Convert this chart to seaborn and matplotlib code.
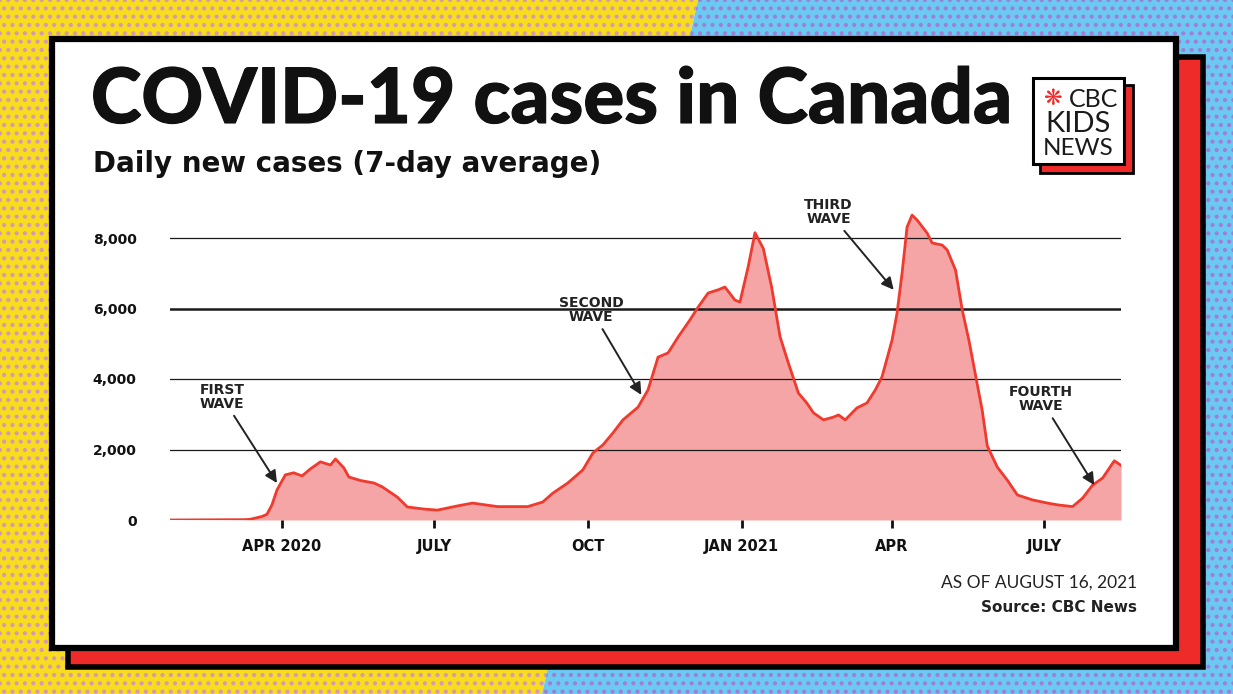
import matplotlib
matplotlib.use("Agg")
import matplotlib.pyplot as plt
import matplotlib.patheffects as pe
from matplotlib.patches import Polygon, Rectangle
import pandas as pd
import seaborn as sns

# 7-day average of daily new cases
dates = [
    "2020-01-25", "2020-03-10", "2020-03-13", "2020-03-20", "2020-03-23", "2020-03-26",
    "2020-03-29", "2020-04-03", "2020-04-08", "2020-04-13", "2020-04-18", "2020-04-24",
    "2020-04-30", "2020-05-03", "2020-05-08", "2020-05-11", "2020-05-18", "2020-05-26",
    "2020-05-31", "2020-06-09", "2020-06-15", "2020-06-25", "2020-07-03", "2020-07-15",
    "2020-07-24", "2020-08-02", "2020-08-08", "2020-08-26", "2020-09-04", "2020-09-10",
    "2020-09-19", "2020-09-28", "2020-10-04", "2020-10-10", "2020-10-16", "2020-10-22",
    "2020-10-31", "2020-11-06", "2020-11-12", "2020-11-18", "2020-11-24", "2020-12-01",
    "2020-12-06", "2020-12-12", "2020-12-18", "2020-12-22", "2020-12-28", "2020-12-31",
    "2021-01-05", "2021-01-09", "2021-01-14", "2021-01-19", "2021-01-24", "2021-01-29",
    "2021-02-04", "2021-02-09", "2021-02-13", "2021-02-19", "2021-02-25", "2021-02-28",
    "2021-03-04", "2021-03-11", "2021-03-17", "2021-03-22", "2021-03-26", "2021-04-01",
    "2021-04-04", "2021-04-07", "2021-04-10", "2021-04-13", "2021-04-16", "2021-04-22",
    "2021-04-25", "2021-05-01", "2021-05-04", "2021-05-09", "2021-05-11", "2021-05-13",
    "2021-05-17", "2021-05-21", "2021-05-25", "2021-05-28", "2021-06-03", "2021-06-09",
    "2021-06-15", "2021-06-24", "2021-07-03", "2021-07-09", "2021-07-18", "2021-07-24",
    "2021-07-30", "2021-08-05", "2021-08-12", "2021-08-16",
]
cases = [
    0, 10, 20, 100, 160, 430,
    850, 1280, 1340, 1250, 1450, 1650,
    1560, 1730, 1480, 1220, 1120, 1050,
    940, 650, 370, 310, 280, 400,
    480, 420, 380, 380, 510, 760,
    1050, 1420, 1900, 2130, 2470, 2840,
    3200, 3690, 4620, 4740, 5190, 5670,
    6040, 6440, 6530, 6610, 6240, 6180,
    7200, 8150, 7700, 6600, 5200, 4450,
    3600, 3320, 3040, 2840, 2920, 2980,
    2840, 3180, 3320, 3690, 4060, 5100,
    5870, 7000, 8310, 8650, 8510, 8140,
    7860, 7800, 7660, 7090, 6530, 5960,
    5100, 4100, 3100, 2100, 1500, 1130,
    710, 570, 480, 430, 380, 620,
    990, 1190, 1680, 1550,
]

tick_dates = ["2020-04-01", "2020-07-01", "2020-10-01", "2021-01-01", "2021-04-01", "2021-07-01"]
tick_labels = ["APR 2020", "JULY", "OCT", "JAN 2021", "APR", "JULY"]
y_ticks = [0, 2000, 4000, 6000, 8000]

# wave labels: text, text position (date, value), arrow tip (date, value)
wave_labels = ["FIRST\nWAVE", "SECOND\nWAVE", "THIRD\nWAVE", "FOURTH\nWAVE"]
wave_text_dates = ["2020-02-25", "2020-10-03", "2021-02-22", "2021-06-29"]
wave_text_values = [3500, 5960, 8740, 3430]
wave_tip_dates = ["2020-03-29", "2020-11-02", "2021-04-02", "2021-07-31"]
wave_tip_values = [1050, 3550, 6530, 990]

df = pd.DataFrame({"date": pd.to_datetime(dates), "cases": cases})

W, H = 1233, 694
BOLD = "DejaVu Sans"
fig = plt.figure(figsize=(W / 100, H / 100), dpi=100)

# ---- background and cards, in pixel coordinates ----
bg = fig.add_axes([0, 0, 1, 1])
bg.set_xlim(0, W)
bg.set_ylim(H, 0)
bg.axis("off")

plt.rcParams["hatch.linewidth"] = 1.8
bg.add_patch(Polygon([(0, 0), (698, 0), (542, H), (0, H)], closed=True,
                     facecolor="#f8dc1e", edgecolor="#d49ab0", hatch="..", lw=0))
bg.add_patch(Polygon([(698, 0), (W, 0), (W, H), (542, H)], closed=True,
                     facecolor="#6ccaf2", edgecolor="#9d7fd8", hatch="..", lw=0))

bg.add_patch(Rectangle((68, 57), 1135, 610, facecolor="#ef2b2a", edgecolor="black", lw=4))
bg.add_patch(Rectangle((52, 39), 1124, 609, facecolor="white", edgecolor="black", lw=4.5))

# logo
bg.add_patch(Rectangle((1040, 85), 93, 88, facecolor="#ef2b2a", edgecolor="black", lw=2))
bg.add_patch(Rectangle((1033, 78), 91, 86, facecolor="white", edgecolor="black", lw=2.2))
bg.text(1052, 99, "❋", color="#ef2b2a", fontsize=16, ha="center", va="center",
        family="DejaVu Sans", fontweight="bold")
bg.text(1118, 99, "CBC", fontsize=18, ha="right", va="center", family="Lato", color="#1a1a1a")
bg.text(1078, 124, "KIDS", fontsize=21, ha="center", va="center", family="Lato", color="#1a1a1a")
bg.text(1078, 148, "NEWS", fontsize=17.5, ha="center", va="center", family="Lato", color="#1a1a1a")

# titles
bg.text(91, 123, "COVID-19 cases in Canada", fontsize=55, fontweight="black", family="Lato",
        color="#111111", va="baseline", ha="left",
        path_effects=[pe.withStroke(linewidth=0.8, foreground="#111111")])
bg.text(93, 172, "Daily new cases (7-day average)", fontsize=20, fontweight="bold",
        family=BOLD, color="#111111", va="baseline", ha="left")

# footer
bg.text(1137, 588, "AS OF AUGUST 16, 2021", fontsize=12.5, family="Lato", color="#222222",
        ha="right", va="baseline")
bg.text(1137, 612, "Source: CBC News", fontsize=11, fontweight="bold", family=BOLD,
        color="#222222", ha="right", va="baseline")

# ---- chart ----
left, right, top, bottom = 170, 1121, 195, 520
ax = fig.add_axes([left / W, (H - bottom) / H, (right - left) / W, (bottom - top) / H])
ax.patch.set_alpha(0)

ymax = 8000 * (bottom - top) / (520 - 238)
ax.set_ylim(0, ymax)
ax.set_xlim(df["date"].iloc[0], df["date"].iloc[-1])

ax.fill_between(df["date"], df["cases"], color="#f5a5a5", lw=0, zorder=1)
for yv in y_ticks[1:]:
    ax.axhline(yv, color="#1a1a1a", lw=1.8 if yv == 6000 else 0.9, zorder=2)
sns.lineplot(data=df, x="date", y="cases", ax=ax, color="#f03a2e", lw=2, zorder=3)

for spine in ax.spines.values():
    spine.set_visible(False)

ax.set_xticks(pd.to_datetime(tick_dates))
ax.set_xticklabels(tick_labels)
ax.tick_params(axis="x", length=6, width=2, color="#111111", pad=8)
for lab in ax.get_xticklabels():
    lab.set_fontfamily(BOLD)
    lab.set_fontweight("bold")
    lab.set_fontsize(10.5)
    lab.set_color("#111111")

ax.set_yticks(y_ticks)
ax.set_yticklabels([f"{v:,}" for v in y_ticks])
ax.tick_params(axis="y", length=0, pad=24)
for lab in ax.get_yticklabels():
    lab.set_fontfamily(BOLD)
    lab.set_fontweight("bold")
    lab.set_fontsize(10)
    lab.set_color("#111111")
ax.set_xlabel("")
ax.set_ylabel("")

for txt, td, tv, ad, av in zip(wave_labels, wave_text_dates, wave_text_values,
                               wave_tip_dates, wave_tip_values):
    ax.annotate(txt, xy=(pd.Timestamp(ad), av), xytext=(pd.Timestamp(td), tv),
                ha="center", va="center", fontsize=10, fontweight="bold", family=BOLD,
                color="#222222", linespacing=1.0,
                arrowprops=dict(arrowstyle="-|>", color="#222222", lw=1.4,
                                mutation_scale=18, shrinkA=2, shrinkB=0))

fig.savefig("out.png", dpi=100)
